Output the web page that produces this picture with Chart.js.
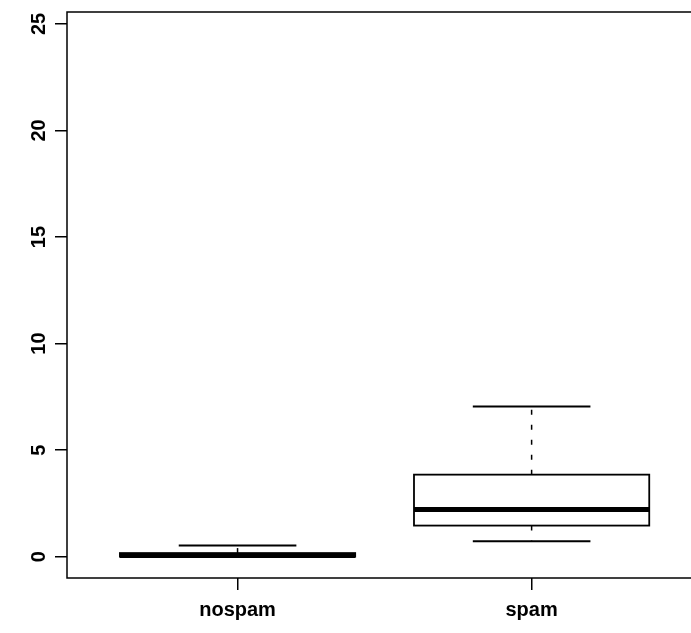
<!DOCTYPE html>
<html>
<head>
<meta charset="utf-8">
<script src="https://cdn.jsdelivr.net/npm/chart.js@4.4.0/dist/chart.umd.min.js"></script>
<style>
  html, body { margin: 0; padding: 0; background: #fff; overflow: hidden; }
</style>
</head>
<body>
<canvas id="chart" width="691" height="633"></canvas>
<script>
// box statistics
const groups = ['nospam', 'spam'];
const whiskerLow = [0, 0.72];
const q1 = [0, 1.46];
const median = [0.06, 2.21];
const q3 = [0.17, 3.85];
const whiskerHigh = [0.52, 7.05];
const yTicks = [0, 5, 10, 15, 20, 25];

const FONT = 'Liberation Sans, Arial, sans-serif';

// draws the boxes, the frame and the rotated y labels (R style)
const boxPlot = {
  id: 'boxPlot',
  afterDatasetsDraw(chart) {
    const { ctx, chartArea, scales: { x, y } } = chart;
    ctx.save();
    ctx.strokeStyle = '#000';
    groups.forEach((g, i) => {
      const cx = x.getPixelForValue(i + 1);
      const half = x.getPixelForValue(i + 1.4) - cx;
      const cap = half / 2;
      const yLo = y.getPixelForValue(whiskerLow[i]);
      const yQ1 = y.getPixelForValue(q1[i]);
      const yMed = y.getPixelForValue(median[i]);
      const yQ3 = y.getPixelForValue(q3[i]);
      const yHi = y.getPixelForValue(whiskerHigh[i]);

      // whiskers (dashed)
      ctx.lineWidth = 1.5;
      ctx.setLineDash([5, 10]);
      ctx.beginPath();
      ctx.moveTo(cx, yQ3); ctx.lineTo(cx, yHi);
      ctx.moveTo(cx, yQ1); ctx.lineTo(cx, yLo);
      ctx.stroke();
      ctx.setLineDash([]);

      // staples
      ctx.lineWidth = 2;
      ctx.beginPath();
      ctx.moveTo(cx - cap, yHi); ctx.lineTo(cx + cap, yHi);
      ctx.moveTo(cx - cap, yLo); ctx.lineTo(cx + cap, yLo);
      ctx.stroke();

      // box
      ctx.fillStyle = '#fff';
      ctx.fillRect(cx - half, yQ3, 2 * half, yQ1 - yQ3);
      ctx.lineWidth = 1.8;
      ctx.strokeRect(cx - half, yQ3, 2 * half, yQ1 - yQ3);

      // median
      ctx.lineWidth = 5;
      ctx.beginPath();
      ctx.moveTo(cx - half, yMed); ctx.lineTo(cx + half, yMed);
      ctx.stroke();
    });

    // plot frame (right side falls outside the canvas, as in the original)
    ctx.lineWidth = 1.5;
    ctx.strokeRect(chartArea.left, chartArea.top, chartArea.right - chartArea.left + 12, chartArea.bottom - chartArea.top);

    // y tick labels, rotated
    ctx.fillStyle = '#000';
    ctx.font = 'bold 20px ' + FONT;
    ctx.textAlign = 'center';
    ctx.textBaseline = 'middle';
    yTicks.forEach(v => {
      const py = y.getPixelForValue(v);
      ctx.save();
      ctx.translate(39, py);
      ctx.rotate(-Math.PI / 2);
      ctx.fillText(String(v), 0, 0);
      ctx.restore();
    });
    ctx.restore();
  }
};

new Chart(document.getElementById('chart'), {
  type: 'scatter',
  data: {
    datasets: [{
      data: groups.map((g, i) => ({ x: i + 1, y: median[i] })),
      pointRadius: 0,
      pointHoverRadius: 0
    }]
  },
  options: {
    responsive: false,
    animation: false,
    events: [],
    layout: { padding: { top: 12, left: 0, right: 0, bottom: 0 } },
    plugins: { legend: { display: false }, tooltip: { enabled: false } },
    scales: {
      x: {
        type: 'linear',
        min: 0.42,
        max: 2.542,
        afterBuildTicks: s => { s.ticks = [{ value: 1 }, { value: 2 }]; },
        afterFit: s => { s.height = 55; },
        ticks: {
          callback: v => groups[v - 1],
          color: '#000',
          font: { family: FONT, size: 20, weight: 'bold' },
          padding: 8,
          maxRotation: 0,
          autoSkip: false
        },
        grid: { drawOnChartArea: false, color: '#000', lineWidth: 1.5, tickLength: 12 },
        border: { display: false }
      },
      y: {
        type: 'linear',
        min: -1.0,
        max: 25.56,
        afterBuildTicks: s => { s.ticks = yTicks.map(v => ({ value: v })); },
        afterFit: s => { s.width = 67; },
        ticks: { display: false },
        grid: { drawOnChartArea: false, color: '#000', lineWidth: 1.5, tickLength: 12 },
        border: { display: false }
      }
    }
  },
  plugins: [boxPlot]
});
</script>
</body>
</html>
